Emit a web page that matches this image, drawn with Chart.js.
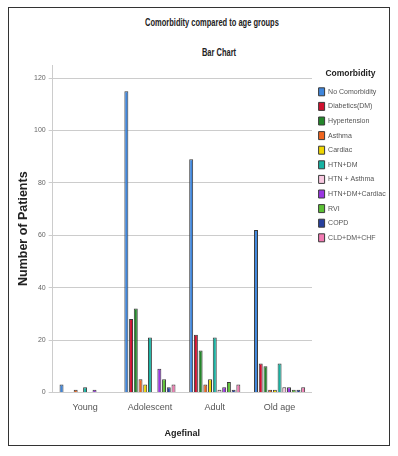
<!DOCTYPE html>
<html>
<head>
<meta charset="utf-8">
<script src="https://cdn.jsdelivr.net/npm/chart.js@4/dist/chart.umd.min.js"></script>
<style>
  html,body{margin:0;padding:0;background:#fff;overflow:hidden}
  .frame{position:absolute;left:8px;top:7px;width:380px;height:437px;border:1.5px solid #333}
  .wrap{position:absolute;left:0;top:0;width:380px;height:437px}
  .ttl{position:absolute;width:260px;text-align:center;font-family:"Liberation Sans",Arial,sans-serif;font-weight:bold;font-size:10px;color:#222;transform:scaleX(0.75)}
</style>
</head>
<body>
<div class="frame">
  <div class="ttl" style="left:73px;top:9px">Comorbidity compared to age groups</div>
  <div class="ttl" style="left:80px;top:39px">Bar Chart</div>
  <div class="wrap"><canvas id="c"></canvas></div>
</div>
<script>
const ageGroups = ['Young','Adolescent','Adult','Old age']
const comorbidities = ['No Comorbidity','Diabetics(DM)','Hypertension','Asthma','Cardiac','HTN+DM','HTN + Asthma','HTN+DM+Cardiac','RVI','COPD','CLD+DM+CHF']
const colors = ['#3f86dc','#d0102f','#23862a','#f0651f','#efd600','#17b3a3','#f9c9e1','#9a36e2','#5cc135','#27409e','#f27bb3']
// counts per comorbidity across Young, Adolescent, Adult, Old age
const noComorbidity = [3,115,89,62]
const diabetics = [0,28,22,11]
const hypertension = [0,32,16,10]
const asthma = [1,5,3,1]
const cardiac = [0,3,5,1]
const htnDm = [2,21,21,11]
const htnAsthma = [0,0,1,2]
const htnDmCardiac = [1,9,2,2]
const rvi = [0,5,4,1]
const copd = [0,2,1,1]
const cldDmChf = [0,3,3,2]
const series = [noComorbidity,diabetics,hypertension,asthma,cardiac,htnDm,htnAsthma,htnDmCardiac,rvi,copd,cldDmChf]
const yTicks = [0,20,40,60,80,100,120]

const sans = '"Liberation Sans",Arial,sans-serif'

new Chart(document.getElementById('c'), {
  type: 'bar',
  data: {
    labels: ageGroups,
    datasets: comorbidities.map((name,i)=>({
      label: name,
      data: series[i],
      backgroundColor: colors[i],
      borderColor: '#3a3a3a',
      borderWidth: 1,
      borderSkipped: 'start',
      categoryPercentage: 0.8,
      barPercentage: 0.84
    }))
  },
  options: {
    responsive: true,
    maintainAspectRatio: false,
    animation: false,
    layout: {padding: {top: 57, left: 7, bottom: 6, right: 0}},
    plugins: {
      tooltip: {enabled: false},
      legend: {
        position: 'right',
        align: 'start',
        maxWidth: 77,
        title: {display: true, text: 'Comorbidity', color: '#222', padding: {top: 4, bottom: 2},
          font: {family: sans, size: 8.5, weight: 'bold'}},
        labels: {boxWidth: 6, boxHeight: 8, padding: 6.6, color: '#555',
          font: {family: sans, size: 7}}
      }
    },
    scales: {
      x: {
        grid: {display: false, drawTicks: false},
        border: {display: false},
        ticks: {padding: 10, color: '#555', font: {family: sans, size: 9}},
        title: {display: true, text: 'Agefinal', color: '#222', padding: {top: 5, bottom: 0},
          font: {family: sans, size: 9, weight: 'bold'}}
      },
      y: {
        min: 0, max: 125,
        afterBuildTicks: s => { s.ticks = yTicks.map(v=>({value:v})) },
        grid: {color: '#cccccc', lineWidth: 1, drawTicks: true, tickLength: 4},
        border: {display: true, color: '#cccccc'},
        ticks: {padding: 3, color: '#666', font: {family: sans, size: 7}},
        title: {display: true, text: 'Number of Patients', color: '#222', padding: {top: 0, bottom: 0},
          font: {family: sans, size: 12.5, weight: 'bold'}}
      }
    }
  }
})
</script>
</body>
</html>
